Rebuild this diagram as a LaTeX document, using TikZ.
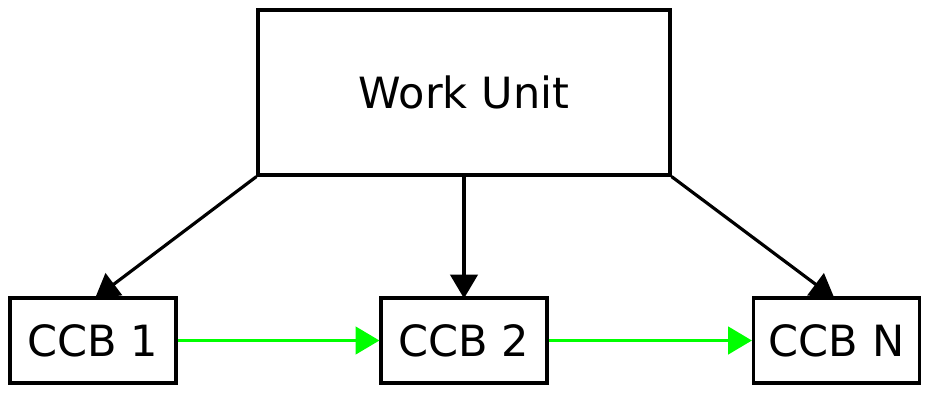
\documentclass[tikz,border=0pt]{standalone}
\usepackage{fontspec}
\setmainfont{DejaVu Sans}
\usetikzlibrary{arrows.meta,positioning,calc}

\definecolor{flowgreen}{RGB}{0,255,0}

\begin{document}
\begin{tikzpicture}[
        x=0.02cm, y=-0.02cm,
        font=\fontsize{24.5}{29}\selectfont,
        >={Triangle[length=13.5pt,width=15.5pt]},
        box/.style={rectangle, draw, line width=1.8pt, inner sep=0pt},
        unitbox/.style={box, minimum width=8.24cm, minimum height=3.3cm},
        ccbbox/.style={box, minimum width=3.32cm, minimum height=1.7cm},
        feed/.style={->, line width=1.8pt},
        chain/.style={->, line width=1.9pt, flowgreen}
    ]
        \useasboundingbox (0,0) rectangle (929,392);

        \node[unitbox] (wu) at (464,92.5)  {Work Unit};
        \node[ccbbox]  (c1) at (93,340.5)  {CCB 1};
        \node[ccbbox]  (c2) at (464,340.5) {CCB 2};
        \node[ccbbox]  (cn) at (836.5,340.5) {CCB N};

        \draw[feed] (wu.south west) -- ($(c1.north)+(2,2)$);
        \draw[feed] (wu.south) -- ($(c2.north)+(0,2)$);
        \draw[feed] (wu.south east) -- ($(cn.north)+(-2,2)$);

        \draw[chain] (c1) -- (c2);
        \draw[chain] (c2) -- (cn);
    \end{tikzpicture}
\end{document}
